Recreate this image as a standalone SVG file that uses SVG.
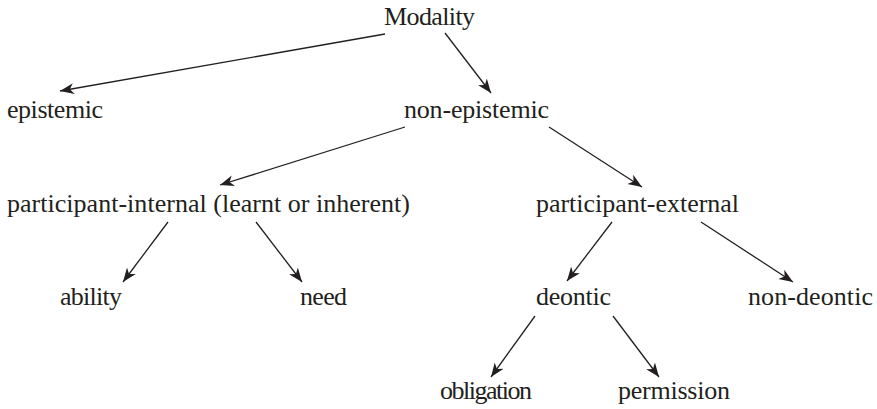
<svg xmlns="http://www.w3.org/2000/svg" width="877" height="409" viewBox="0 0 877 409">
  <style>
    .lbl { font-family: "Liberation Serif", "Times New Roman", serif; font-size: 26px; fill: #231f20; }
    .edge { stroke: #231f20; stroke-width: 1.3; fill: none; marker-end: url(#arrow); }
  </style>
  <defs>
    <marker id="arrow" viewBox="-14 -6 16 12" markerWidth="16" markerHeight="12" refX="0" refY="0" orient="auto" markerUnits="userSpaceOnUse">
      <path d="M0,0 L-14,-5.5 L-10,0 L-14,5.5 Z" fill="#231f20"/>
    </marker>
  </defs>
  <rect width="877" height="409" fill="#ffffff"/>

  <g id="connectors">
    <line class="edge" x1="385" y1="34" x2="60" y2="91"/>
    <line class="edge" x1="445" y1="33" x2="491" y2="93"/>
    <line class="edge" x1="405" y1="127" x2="220" y2="185"/>
    <line class="edge" x1="549" y1="127" x2="642" y2="187"/>
    <line class="edge" x1="168" y1="222" x2="123" y2="282"/>
    <line class="edge" x1="256" y1="222" x2="302" y2="282"/>
    <line class="edge" x1="612" y1="222" x2="567" y2="281"/>
    <line class="edge" x1="701" y1="222" x2="793" y2="282"/>
    <line class="edge" x1="535" y1="316" x2="491" y2="377"/>
    <line class="edge" x1="613" y1="316" x2="659" y2="377"/>
  </g>

  <g id="modality"><text class="lbl" x="384" y="25" textLength="91">Modality</text></g>
  <g id="epistemic"><text class="lbl" x="7" y="118" textLength="96">epistemic</text></g>
  <g id="non-epistemic"><text class="lbl" x="404" y="118" textLength="145">non-epistemic</text></g>
  <g id="participant-internal"><text class="lbl" x="7" y="212" textLength="403">participant-internal (learnt or inherent)</text></g>
  <g id="participant-external"><text class="lbl" x="536" y="212" textLength="203">participant-external</text></g>
  <g id="ability"><text class="lbl" x="60" y="305" textLength="62">ability</text></g>
  <g id="need"><text class="lbl" x="300" y="305" textLength="47">need</text></g>
  <g id="deontic"><text class="lbl" x="536" y="305" textLength="75">deontic</text></g>
  <g id="non-deontic"><text class="lbl" x="748" y="305" textLength="125">non-deontic</text></g>
  <g id="obligation"><text class="lbl" x="440" y="399" textLength="92">obligation</text></g>
  <g id="permission"><text class="lbl" x="618" y="399" textLength="112">permission</text></g>
</svg>
